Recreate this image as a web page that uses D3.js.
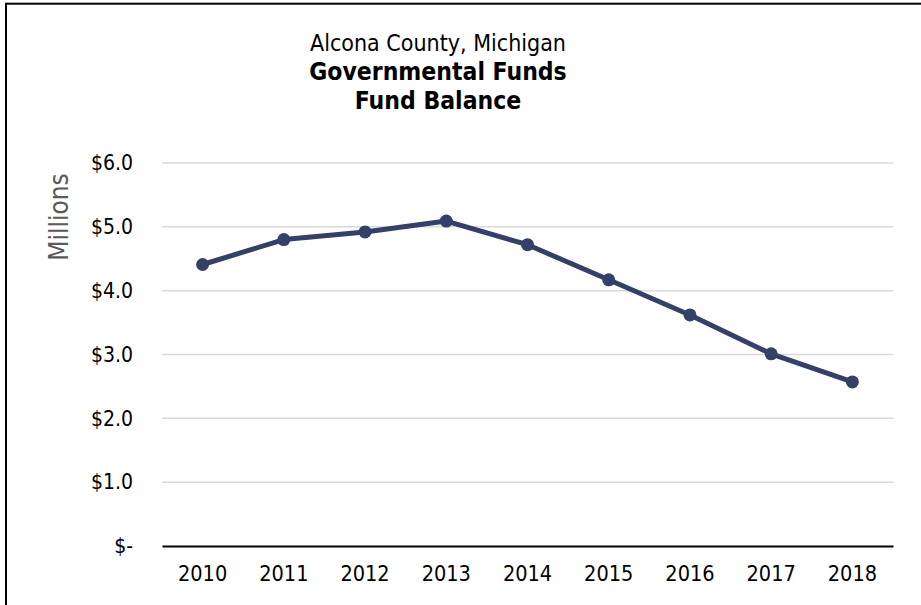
<!DOCTYPE html>
<html>
<head>
<meta charset="utf-8">
<script src="https://cdn.jsdelivr.net/npm/d3@7"></script>
<style>
  body { margin: 0; background: #fff; }
  svg { display: block; font-family: "DejaVu Sans Condensed", "DejaVu Sans", sans-serif; }
</style>
</head>
<body>
<svg id="chart" width="921" height="605"></svg>
<script>
const years = ["2010", "2011", "2012", "2013", "2014", "2015", "2016", "2017", "2018"];
const balances = [4.41, 4.80, 4.92, 5.09, 4.72, 4.17, 3.62, 3.01, 2.57];
const yTicks = [0, 1, 2, 3, 4, 5, 6];
const titleLines = ["Alcona County, Michigan", "Governmental Funds", "Fund Balance"];

const width = 921;
const height = 605;
const margin = { top: 163, right: 28, bottom: 59, left: 162 };

const svg = d3.select("#chart");

// 外枠（右と下は画像の外）
svg.append("rect")
  .attr("x", 6).attr("y", 3.7)
  .attr("width", width + 20).attr("height", height + 20)
  .attr("fill", "none")
  .attr("stroke", "#000")
  .attr("stroke-width", 2);

const x = d3.scaleBand()
  .domain(years)
  .range([margin.left, width - margin.right]);

const y = d3.scaleLinear()
  .domain([0, 6])
  .range([height - margin.bottom, margin.top]);

// 目盛り線
svg.append("g")
  .selectAll("line")
  .data(yTicks.filter(d => d > 0))
  .join("line")
  .attr("x1", margin.left)
  .attr("x2", width - margin.right)
  .attr("y1", d => y(d))
  .attr("y2", d => y(d))
  .attr("stroke", "#d9d9d9")
  .attr("stroke-width", 1.5);

// y軸ラベル
const fmt = d => d === 0 ? "$-" : "$" + d.toFixed(1);
const yAxis = d3.axisLeft(y).tickValues(yTicks).tickFormat(fmt).tickSize(0).tickPadding(29);
svg.append("g")
  .attr("transform", `translate(${margin.left},0)`)
  .call(yAxis)
  .call(g => g.select(".domain").remove())
  .selectAll("text")
  .attr("font-size", 21)
  .attr("fill", "#000")
  .attr("font-family", "DejaVu Sans Condensed, DejaVu Sans, sans-serif");

// x軸
const xAxis = d3.axisBottom(x).tickSize(0).tickPadding(20);
svg.append("g")
  .attr("transform", `translate(0,${y(0)})`)
  .call(xAxis)
  .call(g => g.select(".domain").attr("stroke", "#000").attr("stroke-width", 2))
  .selectAll("text")
  .attr("font-size", 21.5)
  .attr("fill", "#000")
  .attr("font-family", "DejaVu Sans Condensed, DejaVu Sans, sans-serif");

// 折れ線
const line = d3.line()
  .x((d, i) => x(years[i]) + x.bandwidth() / 2)
  .y(d => y(d));

svg.append("path")
  .datum(balances)
  .attr("d", line)
  .attr("fill", "none")
  .attr("stroke", "#334068")
  .attr("stroke-width", 5)
  .attr("stroke-linejoin", "round");

svg.append("g")
  .selectAll("circle")
  .data(balances)
  .join("circle")
  .attr("cx", (d, i) => x(years[i]) + x.bandwidth() / 2)
  .attr("cy", d => y(d))
  .attr("r", 6.5)
  .attr("fill", "#334068");

// タイトル
svg.append("g")
  .selectAll("text")
  .data(titleLines)
  .join("text")
  .attr("x", 438)
  .attr("y", (d, i) => 51 + i * 29)
  .attr("text-anchor", "middle")
  .attr("font-size", (d, i) => i === 0 ? 23 : 24.5)
  .attr("font-weight", (d, i) => i === 0 ? "normal" : "bold")
  .attr("fill", "#000")
  .text(d => d);

// 縦軸タイトル
svg.append("text")
  .attr("transform", "translate(68,217) rotate(-90)")
  .attr("text-anchor", "middle")
  .attr("font-size", 26)
  .attr("fill", "#595959")
  .text("Millions");
</script>
</body>
</html>
